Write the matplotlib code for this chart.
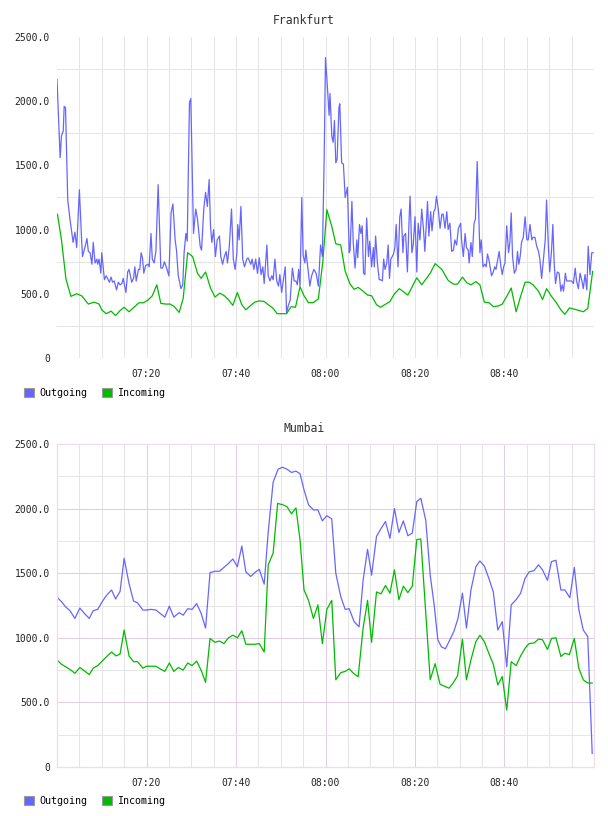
import matplotlib
matplotlib.use('Agg')
import matplotlib.pyplot as plt
from matplotlib.patches import Patch
from matplotlib.ticker import FixedLocator, FuncFormatter

# (minutes after 07:00, value)
fra_out = [
    (0.0, 2170), (0.7, 1560), (1.0, 1730), (1.4, 1770), (1.6, 1960), (1.9, 1950), (2.4, 1230), (2.9, 1080),
    (3.6, 900), (4.0, 980), (4.4, 860), (5.0, 1310), (5.5, 920), (5.7, 790), (6.3, 870), (6.7, 930),
    (7.0, 830), (7.4, 820), (7.8, 730), (8.1, 900), (8.5, 740), (8.9, 770), (9.1, 730), (9.4, 770),
    (9.8, 660), (10.0, 820), (10.6, 610), (11.0, 640), (11.3, 620), (11.7, 590), (12.1, 630), (12.4, 590),
    (12.8, 600), (13.3, 530), (13.7, 590), (14.1, 570), (14.5, 580), (14.8, 620), (15.4, 510), (15.8, 670),
    (16.1, 690), (16.7, 590), (17.1, 620), (17.4, 710), (17.7, 600), (18.2, 690), (18.5, 690), (18.8, 820),
    (19.1, 780), (19.4, 660), (19.8, 720), (20.3, 730), (20.6, 710), (21.0, 970), (21.3, 770), (21.7, 740),
    (22.1, 830), (22.6, 1350), (23.2, 700), (23.6, 700), (24.0, 750), (24.5, 700), (25.0, 640), (25.5, 1130),
    (25.9, 1200), (26.4, 920), (26.7, 840), (27.1, 640), (27.7, 540), (28.1, 570), (28.4, 820), (28.8, 970),
    (29.1, 910), (29.6, 1990), (29.9, 2020), (30.5, 970), (31.0, 1160), (31.4, 1080), (32.0, 870), (32.3, 840),
    (32.8, 1160), (33.2, 1290), (33.6, 1180), (34.0, 1390), (34.3, 1030), (34.6, 900), (35.0, 1000), (35.4, 790),
    (35.8, 920), (36.3, 950), (36.6, 790), (37.0, 730), (37.4, 790), (37.8, 830), (38.1, 740), (38.5, 870),
    (39.0, 1160), (39.4, 770), (39.8, 690), (40.2, 820), (40.4, 1040), (40.7, 920), (41.1, 1180), (41.5, 770),
    (41.9, 710), (42.4, 770), (42.7, 780), (43.3, 730), (43.6, 770), (44.0, 690), (44.4, 770), (44.8, 660),
    (45.2, 780), (45.6, 650), (46.0, 710), (46.3, 580), (46.9, 880), (47.2, 640), (47.6, 600), (48.0, 640),
    (48.3, 610), (48.7, 770), (49.1, 600), (49.5, 560), (49.8, 650), (50.2, 510), (50.6, 610), (51.0, 710),
    (51.3, 350), (51.7, 410), (52.1, 450), (52.6, 700), (53.0, 600), (53.4, 600), (53.7, 570), (54.0, 690),
    (54.3, 560), (54.7, 1250), (55.0, 800), (55.4, 740), (55.6, 840), (56.2, 660), (56.5, 560), (56.9, 640),
    (57.4, 690), (57.9, 660), (58.4, 560), (58.9, 880), (59.3, 790), (59.7, 1550), (60.0, 2340), (60.5, 2070),
    (60.8, 1890), (61.0, 2060), (61.4, 1730), (61.7, 1680), (62.0, 1850), (62.3, 1520), (62.6, 1550), (63.0, 1950),
    (63.2, 1980), (63.6, 1520), (64.0, 1510), (64.4, 1250), (64.9, 1330), (65.3, 820), (65.5, 840), (65.9, 1220),
    (66.2, 900), (66.6, 700), (67.0, 920), (67.2, 780), (67.6, 1040), (67.9, 970), (68.2, 1030), (68.5, 660),
    (68.8, 650), (69.2, 1090), (69.6, 790), (69.9, 910), (70.3, 710), (70.7, 860), (70.9, 710), (71.2, 950),
    (71.6, 740), (72.0, 610), (72.3, 610), (72.7, 600), (73.0, 770), (73.3, 690), (73.7, 740), (74.0, 880),
    (74.3, 620), (74.6, 770), (75.2, 810), (75.5, 860), (75.8, 1040), (76.2, 710), (76.6, 1100), (76.9, 1160),
    (77.3, 820), (77.5, 950), (77.9, 970), (78.3, 670), (78.7, 1100), (78.9, 1260), (79.3, 820), (79.6, 880),
    (80.0, 1100), (80.4, 670), (80.7, 1050), (81.1, 920), (81.5, 1160), (81.9, 1000), (82.2, 830), (82.8, 1220),
    (83.1, 950), (83.5, 1140), (83.8, 990), (84.2, 1140), (84.5, 1160), (84.8, 1260), (85.2, 1160), (85.6, 1010),
    (86.0, 1120), (86.3, 1120), (86.7, 1010), (87.1, 1140), (87.4, 1000), (87.8, 1050), (88.2, 830), (88.6, 840),
    (88.9, 920), (89.3, 880), (89.7, 1010), (90.2, 1050), (90.4, 920), (90.8, 790), (91.2, 970), (91.5, 860),
    (91.9, 840), (92.1, 740), (92.5, 900), (92.8, 790), (93.2, 1050), (93.5, 1080), (93.9, 1530), (94.2, 1160),
    (94.5, 820), (94.8, 920), (95.2, 710), (95.6, 730), (95.9, 710), (96.2, 810), (96.6, 750), (97.1, 640),
    (97.5, 670), (97.8, 710), (98.1, 690), (98.5, 770), (98.8, 830), (99.2, 710), (99.5, 650), (99.8, 710),
    (100.1, 740), (100.5, 1030), (100.9, 820), (101.2, 900), (101.5, 1130), (101.8, 790), (102.2, 660), (102.6, 690),
    (102.9, 830), (103.2, 730), (103.5, 790), (103.8, 900), (104.2, 940), (104.6, 1100), (105.0, 920), (105.3, 920),
    (105.7, 1040), (106.1, 920), (106.4, 940), (106.8, 940), (107.2, 870), (107.6, 830), (107.9, 770), (108.3, 620),
    (108.7, 770), (109.1, 920), (109.4, 1230), (109.8, 870), (110.1, 670), (110.5, 830), (110.8, 1040), (111.1, 740),
    (111.4, 580), (111.8, 670), (112.2, 660), (112.6, 520), (112.9, 570), (113.2, 520), (113.6, 660), (113.9, 600),
    (114.3, 600), (114.6, 600), (115.0, 600), (115.4, 580), (115.8, 700), (116.1, 600), (116.5, 540), (116.9, 660),
    (117.3, 600), (117.6, 540), (118.0, 650), (118.4, 530), (118.7, 870), (119.1, 650), (119.5, 820), (119.8, 820),
]
fra_in = [
    (0.1, 1120), (1.0, 920), (2.0, 615), (3.1, 480), (4.4, 500), (5.5, 485), (7.0, 420), (8.3, 435),
    (9.4, 420), (10.0, 375), (11.0, 345), (12.1, 365), (13.1, 330), (14.1, 370), (15.0, 395), (16.1, 360),
    (17.2, 395), (18.3, 430), (19.3, 430), (20.3, 450), (21.3, 485), (22.3, 570), (23.2, 425), (24.3, 420),
    (25.3, 420), (26.2, 400), (27.3, 355), (28.2, 465), (29.2, 820), (30.3, 790), (31.4, 660), (32.2, 620),
    (33.2, 670), (34.3, 545), (35.3, 475), (36.4, 505), (37.4, 485), (38.3, 455), (39.3, 410), (40.3, 510),
    (41.3, 415), (42.2, 375), (43.3, 410), (44.2, 435), (45.2, 445), (46.3, 440), (47.2, 415), (48.2, 390),
    (49.2, 345), (50.2, 345), (51.3, 345), (52.3, 400), (53.3, 395), (54.3, 555), (55.2, 485), (56.2, 430),
    (57.3, 432), (58.4, 460), (59.4, 750), (60.3, 1155), (61.4, 1025), (62.3, 890), (63.4, 880), (64.4, 675),
    (65.5, 575), (66.4, 535), (67.3, 550), (68.4, 520), (69.4, 490), (70.3, 485), (71.4, 415), (72.3, 395),
    (74.4, 440), (75.4, 500), (76.5, 540), (78.4, 490), (80.4, 625), (81.5, 570), (83.4, 660), (84.5, 735),
    (86.0, 690), (87.4, 605), (88.6, 575), (89.5, 575), (90.6, 630), (91.6, 585), (92.5, 570), (93.6, 595),
    (94.5, 570), (95.5, 435), (96.6, 430), (97.5, 400), (98.6, 405), (99.5, 420), (100.5, 480), (101.5, 545),
    (102.6, 360), (103.6, 480), (104.6, 590), (105.5, 590), (106.4, 570), (107.6, 520), (108.5, 455), (109.4, 540),
    (110.5, 480), (111.5, 435), (112.6, 375), (113.5, 340), (114.5, 390), (115.6, 380), (116.7, 370), (117.6, 360),
    (118.6, 385), (119.7, 675),
]
mum_out = [
    (0.1, 1310), (1.0, 1280), (1.9, 1240), (2.9, 1210), (4.0, 1150), (5.1, 1230), (6.1, 1190), (7.2, 1150),
    (8.1, 1210), (9.1, 1220), (10.1, 1280), (11.1, 1330), (12.2, 1370), (13.1, 1300), (14.1, 1360), (15.0, 1615),
    (16.1, 1420), (17.1, 1285), (18.0, 1270), (19.2, 1215), (20.0, 1215), (21.0, 1220), (22.1, 1215), (23.0, 1190),
    (24.1, 1160), (25.1, 1245), (26.1, 1160), (27.3, 1195), (28.2, 1175), (29.2, 1225), (30.2, 1220), (31.2, 1265),
    (32.2, 1190), (33.2, 1075), (34.2, 1505), (35.3, 1515), (36.3, 1515), (37.3, 1545), (38.3, 1575), (39.3, 1610),
    (40.3, 1550), (41.3, 1710), (42.2, 1510), (43.3, 1475), (44.2, 1505), (45.2, 1530), (46.3, 1415), (47.2, 1820),
    (48.3, 2205), (49.4, 2305), (50.4, 2320), (51.4, 2305), (52.4, 2280), (53.4, 2290), (54.3, 2270), (55.2, 2145),
    (56.2, 2030), (57.3, 1990), (58.3, 1990), (59.3, 1905), (60.3, 1945), (61.4, 1920), (62.3, 1500), (63.4, 1320),
    (64.4, 1220), (65.3, 1225), (66.4, 1125), (67.5, 1085), (68.4, 1445), (69.4, 1685), (70.3, 1485), (71.4, 1785),
    (72.4, 1845), (73.4, 1900), (74.4, 1770), (75.4, 2000), (76.4, 1815), (77.4, 1905), (78.4, 1790), (79.4, 1810),
    (80.4, 2055), (81.3, 2080), (82.4, 1910), (83.4, 1485), (84.3, 1250), (85.1, 985), (85.9, 930), (86.8, 915),
    (87.8, 985), (88.7, 1050), (89.6, 1150), (90.6, 1345), (91.5, 1075), (92.5, 1370), (93.6, 1550), (94.5, 1595),
    (95.5, 1555), (96.5, 1460), (97.5, 1355), (98.5, 1060), (99.5, 1125), (100.5, 775), (101.5, 1255), (102.6, 1295),
    (103.6, 1345), (104.6, 1460), (105.5, 1510), (106.6, 1520), (107.6, 1565), (108.5, 1525), (109.6, 1445), (110.5, 1590),
    (111.5, 1600), (112.6, 1370), (113.5, 1370), (114.6, 1310), (115.6, 1545), (116.6, 1220), (117.6, 1060), (118.6, 1010),
    (119.6, 105),
]
mum_in = [
    (0.1, 825), (1.0, 795), (2.0, 775), (3.1, 750), (4.0, 725), (5.1, 770), (6.1, 745), (7.2, 715),
    (8.1, 765), (9.1, 785), (10.1, 820), (11.1, 855), (12.2, 890), (13.2, 860), (14.1, 875), (15.0, 1060),
    (16.1, 860), (17.1, 815), (18.0, 815), (19.2, 765), (20.0, 780), (21.0, 780), (22.1, 780), (23.0, 760),
    (24.1, 740), (25.1, 805), (26.1, 740), (27.1, 770), (28.2, 750), (29.2, 805), (30.2, 785), (31.2, 820),
    (32.2, 750), (33.2, 655), (34.2, 995), (35.3, 965), (36.3, 975), (37.3, 955), (38.3, 1000), (39.3, 1020),
    (40.3, 1000), (41.3, 1055), (42.2, 950), (43.3, 950), (44.2, 950), (45.2, 955), (46.3, 890), (47.2, 1565),
    (48.3, 1655), (49.3, 2040), (50.4, 2030), (51.4, 2015), (52.4, 1960), (53.4, 2005), (54.3, 1760), (55.2, 1370),
    (56.2, 1290), (57.3, 1150), (58.3, 1255), (59.3, 955), (60.3, 1220), (61.4, 1290), (62.3, 675), (63.4, 730),
    (64.4, 740), (65.3, 760), (66.4, 720), (67.3, 700), (68.4, 1075), (69.4, 1290), (70.3, 965), (71.4, 1355),
    (72.4, 1340), (73.4, 1405), (74.4, 1345), (75.4, 1525), (76.4, 1295), (77.4, 1400), (78.4, 1350), (79.4, 1400),
    (80.4, 1760), (81.3, 1765), (83.4, 675), (84.5, 800), (85.6, 640), (86.6, 625), (87.6, 610), (88.6, 655),
    (89.5, 705), (90.6, 990), (91.5, 675), (92.5, 830), (93.6, 970), (94.5, 1020), (95.5, 970), (96.5, 880),
    (97.5, 795), (98.5, 635), (99.5, 700), (100.5, 440), (101.5, 815), (102.6, 785), (103.6, 860), (104.6, 920),
    (105.5, 955), (106.6, 960), (107.6, 990), (108.5, 985), (109.6, 910), (110.5, 995), (111.5, 1000), (112.6, 855),
    (113.5, 880), (114.5, 870), (115.6, 995), (116.6, 765), (117.6, 675), (118.6, 650), (119.6, 650),
]

titles = ['Frankfurt', 'Mumbai']
series_names = ['Outgoing', 'Incoming']
time_labels = ['07:20', '07:40', '08:00', '08:20', '08:40']
y_ticks = [0, 500, 1000, 1500, 2000, 2500]

BLUE = '#6666ff'
GREEN = '#00bb00'
GRID = '#e6e6e6'
LAVENDER = '#e2cce6'

plt.rcParams['font.family'] = 'DejaVu Sans Mono'

W, H = 608, 816
fig = plt.figure(figsize=(W / 100, H / 100), dpi=100)
ax_top = fig.add_axes([57 / W, 1 - 358 / H, 537 / W, 321 / H])
ax_bot = fig.add_axes([57 / W, 1 - 767 / H, 537 / W, 323 / H])

tick_pos = [(int(s[:2]) - 7) * 60 + int(s[3:]) for s in time_labels]
minor_x = [m for m in range(5, 120, 5)]
minor_y = [250 + 500 * i for i in range(5)]


def ylabel(v, pos):
    return '0' if v == 0 else f'{v:.1f}'


for ax, title, out, inc, legend_y in [
        (ax_top, titles[0], fra_out, fra_in, 388),
        (ax_bot, titles[1], mum_out, mum_in, 796)]:
    ot, ov = zip(*out)
    it, iv = zip(*inc)
    ax.plot(ot, ov, color=BLUE, lw=0.9)
    ax.plot(it, iv, color=GREEN, lw=0.9)
    ax.set_xlim(0, 120)
    ax.set_ylim(0, 2500)
    ax.xaxis.set_major_locator(FixedLocator(tick_pos))
    ax.set_xticklabels(time_labels)
    ax.xaxis.set_minor_locator(FixedLocator(minor_x))
    ax.yaxis.set_major_locator(FixedLocator(y_ticks))
    ax.yaxis.set_major_formatter(FuncFormatter(ylabel))
    ax.yaxis.set_minor_locator(FixedLocator(minor_y))
    ax.tick_params(which='both', length=0, labelsize=7, colors='#222222')
    ax.tick_params(axis='y', pad=5)
    ax.tick_params(axis='x', pad=8)
    ax.set_axisbelow(True)
    ax.set_title(title, x=(304 - 57) / 537, fontsize=8.3, color='#333333', pad=9)
    handles = [Patch(facecolor=BLUE, edgecolor='#999999', lw=0.8, label=series_names[0]),
               Patch(facecolor=GREEN, edgecolor='#999999', lw=0.8, label=series_names[1])]
    ax.legend(handles=handles, loc='upper left', bbox_to_anchor=(24 / W, 1 - legend_y / H),
              bbox_transform=fig.transFigure, ncol=2, frameon=False, fontsize=7.2,
              handlelength=1.0, handleheight=1.0, handletextpad=0.5, columnspacing=1.5,
              borderpad=0, borderaxespad=0)

# Frankfurt: plain grey grid, no frame
ax_top.grid(axis='x', which='both', color=GRID, lw=0.75)
ax_top.grid(axis='y', which='minor', color=GRID, lw=0.75)
for s in ax_top.spines.values():
    s.set_visible(False)

# Mumbai: lavender major grid and frame, grey minor grid
ax_bot.grid(which='major', color=LAVENDER, lw=0.75)
ax_bot.grid(which='minor', color=GRID, lw=0.75)
for s in ax_bot.spines.values():
    s.set_color('#ecdcf0')
    s.set_linewidth(0.9)

fig.savefig('out.png', dpi=100)
